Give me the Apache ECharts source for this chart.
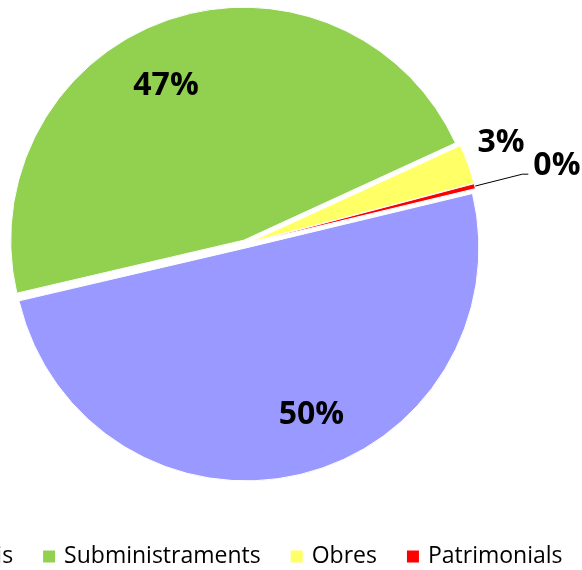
<!DOCTYPE html>
<html>
<head>
<meta charset="utf-8">
<script src="https://cdn.jsdelivr.net/npm/echarts@6/dist/echarts.min.js"></script>
<style>
html,body{margin:0;padding:0;background:#fff;}
#chart{width:582px;height:570px;}
</style>
</head>
<body>
<div id="chart"></div>
<script>
// Data
const categories = ['Serveis', 'Subministraments', 'Obres', 'Patrimonials'];
const values = [50.1, 46.8, 2.75, 0.35];
const colors = ['#9999FF', '#92D050', '#FFFF66', '#FF0000'];

// label nudges (style only)
const labelNudge = [[38, 51], [-39, -41], [-5, -18], [0, -8]];

const chart = echarts.init(document.getElementById('chart'), null, {renderer: 'canvas'});

const data = categories.map((name, i) => {
  const item = {
    name: name,
    value: values[i],
    selected: true,
    itemStyle: { color: colors[i] }
  };
  if (i >= 2) {
    item.label = { position: 'outside' };
    if (i === 2) {
      item.labelLine = { show: false, length: 10, length2: 0 };
    } else {
      item.labelLine = { show: true, length: 49, length2: 6, lineStyle: { color: '#000', width: 1 } };
    }
  }
  return item;
});

chart.setOption({
  animation: false,
  backgroundColor: '#ffffff',
  legend: {
    data: categories,
    left: -91,
    top: 540,
    orient: 'horizontal',
    icon: 'rect',
    itemWidth: 14,
    itemHeight: 14,
    itemGap: 28,
    textStyle: { fontFamily: 'Open Sans', fontSize: 23, color: '#000', padding: [0, 0, 0, 3] }
  },
  series: [{
    type: 'pie',
    center: [245, 244],
    radius: 233,
    startAngle: 13.5,
    clockwise: true,
    avoidLabelOverlap: false,
    selectedMode: 'multiple',
    selectedOffset: 4,
    itemStyle: { borderColor: '#ffffff', borderWidth: 1 },
    label: {
      show: true,
      position: 'inside',
      fontFamily: 'Open Sans',
      fontWeight: 'bold',
      fontSize: 32,
      color: '#000',
      formatter: p => Math.round(p.percent) + '%'
    },
    labelLayout: function (params) {
      const n = labelNudge[params.dataIndex];
      return { dx: n[0], dy: n[1] };
    },
    emphasis: { disabled: true },
    data: data
  }]
});
</script>
</body>
</html>
